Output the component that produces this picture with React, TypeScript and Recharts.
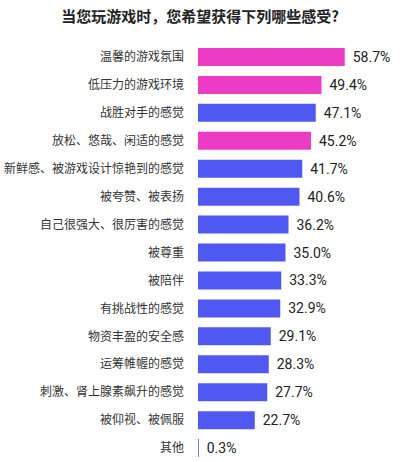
import React from 'react'
import { BarChart, Bar, XAxis, YAxis, Cell, LabelList } from 'recharts'

const title = '当您玩游戏时，您希望获得下列哪些感受?'

const categories = [
  '温馨的游戏氛围',
  '低压力的游戏环境',
  '战胜对手的感觉',
  '放松、悠哉、闲适的感觉',
  '新鲜感、被游戏设计惊艳到的感觉',
  '被夸赞、被表扬',
  '自己很强大、很厉害的感觉',
  '被尊重',
  '被陪伴',
  '有挑战性的感觉',
  '物资丰盈的安全感',
  '运筹帷幄的感觉',
  '刺激、肾上腺素飙升的感觉',
  '被仰视、被佩服',
  '其他',
]

const values = [58.7, 49.4, 47.1, 45.2, 41.7, 40.6, 36.2, 35.0, 33.3, 32.9, 29.1, 28.3, 27.7, 22.7, 0.3]

// bars picked out in pink in the source
const highlighted = ['温馨的游戏氛围', '低压力的游戏环境', '放松、悠哉、闲适的感觉']

const PINK = '#ec3cc6'
const BLUE = '#5058f2'

const data = categories.map((name, i) => ({ name, value: values[i] }))

export default function App() {
  return (
    <div style={{ position: 'relative', width: 400, height: 462, background: '#fff', fontFamily: '"Noto Sans CJK SC", "Noto Sans", sans-serif' }}>
      <style>{'body { margin: 0; }'}</style>
      <div
        style={{
          position: 'absolute',
          top: 5,
          left: 0,
          width: 400,
          textAlign: 'center',
          fontSize: 15,
          fontWeight: 700,
          color: '#222',
        }}
      >
        {title}
      </div>
      <BarChart
        width={400}
        height={462}
        data={data}
        layout="vertical"
        margin={{ top: 43, right: 52, bottom: 0, left: 0 }}
        barCategoryGap={10}
      >
        <XAxis type="number" domain={[0, 60]} hide />
        <YAxis
          type="category"
          dataKey="name"
          width={198}
          axisLine={false}
          tickLine={false}
          tickSize={0}
          tickMargin={14}
          interval={0}
          tick={{ fill: '#333', fontSize: 12 }}
        />
        <Bar dataKey="value" barSize={18} isAnimationActive={false}>
          {data.map((d) => (
            <Cell key={d.name} fill={highlighted.includes(d.name) ? PINK : BLUE} />
          ))}
          <LabelList
            dataKey="value"
            position="right"
            offset={8}
            formatter={(v: number) => `${v.toFixed(1)}%`}
            style={{ fill: '#222', fontSize: 14, fontFamily: '"Liberation Sans Narrow", "Roboto", sans-serif' }}
          />
        </Bar>
      </BarChart>
    </div>
  )
}
